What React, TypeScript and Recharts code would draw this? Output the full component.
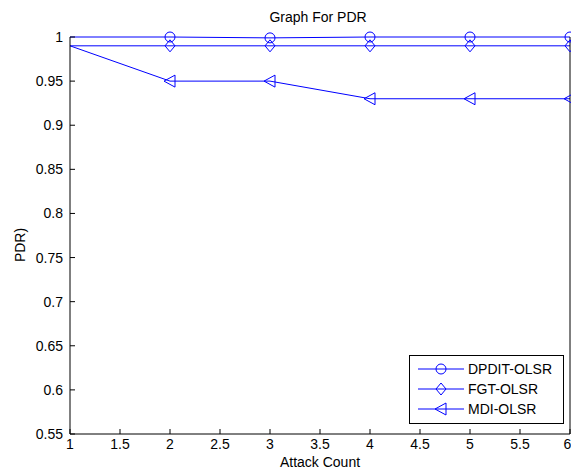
import { Line, LineChart, XAxis, YAxis } from "recharts";

const attackCounts = [1, 2, 3, 4, 5, 6];
const dpditOlsr = [1, 1, 0.999, 1, 1, 1];
const fgtOlsr = [0.99, 0.99, 0.99, 0.99, 0.99, 0.99];
const mdiOlsr = [0.99, 0.95, 0.95, 0.93, 0.93, 0.93];

const xTicks = [1, 1.5, 2, 2.5, 3, 3.5, 4, 4.5, 5, 5.5, 6];
const yTicks = [0.55, 0.6, 0.65, 0.7, 0.75, 0.8, 0.85, 0.9, 0.95, 1];

const seriesNames = ["DPDIT-OLSR", "FGT-OLSR", "MDI-OLSR"];

const data = attackCounts.map((x, i) => ({
  x,
  dpdit: dpditOlsr[i],
  fgt: fgtOlsr[i],
  mdi: mdiOlsr[i],
}));

const BLUE = "#0000ff";
const FONT = "'Liberation Sans', Arial, sans-serif";

type Shape = "circle" | "diamond" | "triangle";

function Marker({ cx, cy, shape }: { cx: number; cy: number; shape: Shape }) {
  if (shape === "circle") {
    return <circle cx={cx} cy={cy} r={5} fill="none" stroke={BLUE} strokeWidth={1} />;
  }
  if (shape === "diamond") {
    return (
      <polygon
        points={`${cx},${cy - 6} ${cx + 5},${cy} ${cx},${cy + 6} ${cx - 5},${cy}`}
        fill="none"
        stroke={BLUE}
        strokeWidth={1}
      />
    );
  }
  return (
    <polygon
      points={`${cx - 6},${cy} ${cx + 5},${cy - 6} ${cx + 5},${cy + 6}`}
      fill="none"
      stroke={BLUE}
      strokeWidth={1}
    />
  );
}

// MATLAB drops the first marker at the left edge, so skip index 0
function makeDot(shape: Shape) {
  return (props: any) => {
    const { cx, cy, index } = props;
    if (index === 0 || cx == null || cy == null) return <g key={`d-${shape}-${index}`} />;
    return (
      <g key={`d-${shape}-${index}`}>
        <Marker cx={cx} cy={cy} shape={shape} />
      </g>
    );
  };
}

const shapes: Shape[] = ["circle", "diamond", "triangle"];

function LegendBox() {
  return (
    <div
      style={{
        position: "absolute",
        left: 409,
        top: 355,
        boxSizing: "border-box",
        width: 155,
        height: 69,
        border: "1px solid #000",
        background: "#fff",
        paddingTop: 3,
        fontFamily: FONT,
        fontSize: 14,
        color: "#000",
      }}
    >
      {seriesNames.map((name, i) => (
        <div key={name} style={{ display: "flex", alignItems: "center", height: 20 }}>
          <svg width={50} height={16} style={{ marginLeft: 8 }}>
            <line x1={0} y1={8} x2={46} y2={8} stroke={BLUE} strokeWidth={1} />
            <Marker cx={23} cy={8} shape={shapes[i]} />
          </svg>
          <span>{name}</span>
        </div>
      ))}
    </div>
  );
}

export default function App() {
  return (
    <div style={{ position: "absolute", left: 0, top: 0, width: 571, height: 470, background: "#fff" }}>
      <LineChart
        width={571}
        height={470}
        data={data}
        margin={{ top: 37, right: 0, bottom: 0, left: 0 }}
      >
        <XAxis
          xAxisId="bottom"
          dataKey="x"
          type="number"
          domain={[1, 6]}
          ticks={xTicks}
          height={36}
          tickSize={-5}
          tickMargin={10}
          stroke="#000"
          tick={{ fill: "#000", fontSize: 14, fontFamily: FONT }}
        />
        <XAxis
          xAxisId="top"
          dataKey="x"
          type="number"
          orientation="top"
          domain={[1, 6]}
          ticks={xTicks}
          height={0}
          tickSize={-5}
          axisLine={false}
          tickFormatter={() => ""}
          stroke="#000"
        />
        <YAxis
          yAxisId="left"
          type="number"
          domain={[0.55, 1]}
          ticks={yTicks}
          width={70}
          tickSize={-5}
          tickMargin={12}
          interval={0}
          stroke="#000"
          tick={{ fill: "#000", fontSize: 14, fontFamily: FONT }}
          tickFormatter={(v: number) => String(Number(v.toFixed(2)))}
        />
        <YAxis
          yAxisId="right"
          orientation="right"
          type="number"
          domain={[0.55, 1]}
          ticks={yTicks}
          width={1}
          tickSize={-5}
          tickFormatter={() => ""}
          stroke="#000"
        />
        <Line
          xAxisId="bottom"
          yAxisId="left"
          dataKey="mdi"
          name="MDI-OLSR"
          stroke={BLUE}
          strokeWidth={1}
          dot={makeDot("triangle")}
          activeDot={false}
          isAnimationActive={false}
        />
        <Line
          xAxisId="bottom"
          yAxisId="left"
          dataKey="fgt"
          name="FGT-OLSR"
          stroke={BLUE}
          strokeWidth={1}
          dot={makeDot("diamond")}
          activeDot={false}
          isAnimationActive={false}
        />
        <Line
          xAxisId="bottom"
          yAxisId="left"
          dataKey="dpdit"
          name="DPDIT-OLSR"
          stroke={BLUE}
          strokeWidth={1}
          dot={makeDot("circle")}
          activeDot={false}
          isAnimationActive={false}
        />
      </LineChart>
      <LegendBox />
      <div
        style={{
          position: "absolute",
          left: 0,
          width: 636,
          top: 9,
          textAlign: "center",
          fontFamily: FONT,
          fontSize: 14,
        }}
      >
        Graph For PDR
      </div>
      <div
        style={{
          position: "absolute",
          left: 70,
          width: 500,
          top: 454,
          textAlign: "center",
          fontFamily: FONT,
          fontSize: 14,
        }}
      >
        Attack Count
      </div>
      <div
        style={{
          position: "absolute",
          left: 20,
          top: 245,
          transform: "translate(-50%, -50%) rotate(-90deg)",
          fontFamily: FONT,
          fontSize: 14,
          whiteSpace: "nowrap",
        }}
      >
        PDR)
      </div>
    </div>
  );
}
